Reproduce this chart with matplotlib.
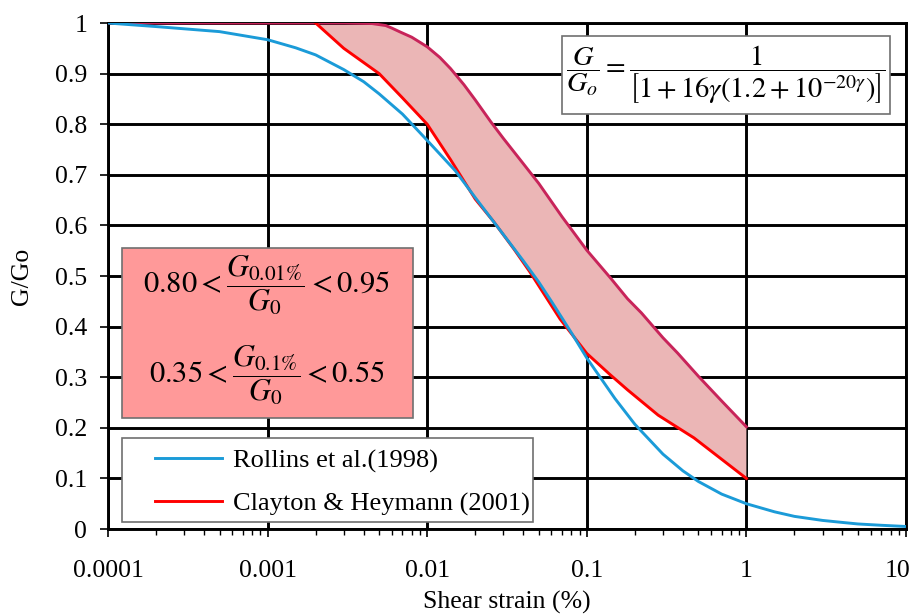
import numpy as np
import matplotlib
matplotlib.use("Agg")
import matplotlib.pyplot as plt
from matplotlib.patches import Rectangle
from matplotlib.ticker import FixedLocator, LogLocator, NullFormatter
from matplotlib.transforms import ScaledTranslation

# ---- data ----
rollins_strain = [1e-4, 2e-4, 5e-4, 1e-3, 1.5e-3, 2e-3, 3e-3, 4e-3, 5e-3, 7e-3, 0.01,
                  0.015, 0.02, 0.03, 0.04, 0.05, 0.06, 0.08, 0.1, 0.15, 0.2, 0.3, 0.4,
                  0.5, 0.7, 1.0, 1.5, 2.0, 3.0, 4.0, 5.0, 7.0, 10.0]
rollins_G = [1.0, 0.993, 0.983, 0.967, 0.951, 0.937, 0.908, 0.884, 0.860, 0.820, 0.768,
             0.708, 0.655, 0.582, 0.530, 0.488, 0.450, 0.388, 0.338, 0.258, 0.207, 0.148,
             0.115, 0.094, 0.069, 0.050, 0.034, 0.025, 0.017, 0.013, 0.010, 0.0074, 0.005]

lower_strain = [0.002, 0.003, 0.005, 0.007, 0.01, 0.014, 0.02, 0.026, 0.035, 0.044,
                0.068, 0.1, 0.14, 0.18, 0.28, 0.47, 1.0]
lower_G = [1.0, 0.95, 0.90, 0.852, 0.80, 0.73, 0.652, 0.608, 0.553, 0.508,
           0.415, 0.347, 0.305, 0.275, 0.225, 0.180, 0.10]

upper_strain = [1e-4, 1e-3, 0.002, 0.003, 0.0045, 0.0055, 0.006, 0.0068, 0.008, 0.01,
                0.012, 0.014, 0.017, 0.02, 0.025, 0.03, 0.04, 0.05, 0.07, 0.1, 0.14,
                0.18, 0.22, 0.3, 0.37, 0.5, 0.7, 1.0]
upper_G = [1.0, 1.0, 1.0, 1.0, 0.999, 0.995, 0.99, 0.982, 0.972, 0.953,
           0.932, 0.91, 0.878, 0.848, 0.805, 0.772, 0.722, 0.683, 0.617, 0.551, 0.497,
           0.455, 0.427, 0.378, 0.348, 0.302, 0.253, 0.202]

x_ticks = [1e-4, 1e-3, 1e-2, 1e-1, 1, 10]
x_ticklabels = ["0.0001", "0.001", "0.01", "0.1", "1", "10"]
y_ticks = [0, 0.1, 0.2, 0.3, 0.4, 0.5, 0.6, 0.7, 0.8, 0.9, 1.0]
y_ticklabels = ["0", "0.1", "0.2", "0.3", "0.4", "0.5", "0.6", "0.7", "0.8", "0.9", "1"]

legend_labels = ["Rollins et al.(1998)", "Clayton & Heymann (2001)"]

# ---- styling ----
plt.rcParams['font.family'] = ['Liberation Serif', 'DejaVu Serif']
plt.rcParams['mathtext.fontset'] = 'stix'

BLUE = '#1B9BD8'
RED = '#FF0000'
CRIMSON = '#C8245A'
FILL = '#EBB6B6'

fig = plt.figure(figsize=(9.17, 6.14), dpi=100)
ax = fig.add_axes([0.1178, 0.1384, 0.988 - 0.1178, 0.9625 - 0.1384])

ax.set_xscale('log')
ax.set_xlim(1e-4, 10)
ax.set_ylim(0, 1)

# band between Clayton & Heymann bounds
us = np.array(upper_strain)
ug = np.array(upper_G)
m = us >= lower_strain[0]
poly_x = np.concatenate([us[m], np.array(lower_strain)[::-1]])
poly_y = np.concatenate([ug[m], np.array(lower_G)[::-1]])
ax.fill(poly_x, poly_y, color=FILL, zorder=2, lw=0)

ax.plot(upper_strain, upper_G, color=CRIMSON, lw=2.1, zorder=3, solid_joinstyle='round')
ax.plot(lower_strain, lower_G, color=RED, lw=2.1, zorder=3, label=legend_labels[1],
        solid_joinstyle='round')
ax.plot(rollins_strain, rollins_G, color=BLUE, lw=2.1, zorder=4, label=legend_labels[0],
        solid_joinstyle='round')

# grid & ticks
ax.xaxis.set_major_locator(FixedLocator(x_ticks))
ax.set_xticklabels(x_ticklabels)
ax.xaxis.set_minor_locator(LogLocator(base=10, subs=np.arange(2, 10)))
ax.xaxis.set_minor_formatter(NullFormatter())
ax.set_yticks(y_ticks)
ax.set_yticklabels(y_ticklabels)
ax.grid(True, which='major', color='black', lw=2.1)
ax.set_axisbelow(True)
for s in ax.spines.values():
    s.set_linewidth(2.1)
    s.set_color('black')
ax.tick_params(axis='both', which='major', labelsize=18.5, length=6, width=1.2,
               direction='out', color='black')
ax.tick_params(axis='x', which='major', pad=16)
ax.tick_params(axis='y', which='major', pad=9)
ax.tick_params(axis='x', which='minor', length=4, width=1.0, direction='out')

# keep the last x tick label inside the canvas
last = ax.get_xticklabels()[-1]
last.set_transform(last.get_transform() + ScaledTranslation(-6 / 72, 0, fig.dpi_scale_trans))

ax.set_xlabel("Shear strain (%)", fontsize=18.5, labelpad=7)
ax.set_ylabel("G/Go", fontsize=18.5, labelpad=16)

# pink info box
ax.add_patch(Rectangle((0.0175, 0.219), 0.365, 0.336, transform=ax.transAxes,
                       facecolor='#FF9999', edgecolor='#707070', lw=1.2, zorder=5))
ax.text(0.199, 0.482, r'$0.80<\dfrac{G_{0.01\%}}{G_0}<0.95$', transform=ax.transAxes,
        ha='center', va='center', fontsize=22, zorder=6)
ax.text(0.199, 0.305, r'$0.35<\dfrac{G_{0.1\%}}{G_0}<0.55$', transform=ax.transAxes,
        ha='center', va='center', fontsize=22, zorder=6)

# formula box
ax.add_patch(Rectangle((0.569, 0.820), 0.411, 0.154, transform=ax.transAxes,
                       facecolor='white', edgecolor='#707070', lw=1.2, zorder=5))
ax.text(0.7745, 0.899,
        r'$\dfrac{G}{G_o}=\dfrac{1}{\left[1+16\gamma\left(1.2+10^{-20\gamma}\right)\right]}$',
        transform=ax.transAxes, ha='center', va='center', fontsize=20.5, zorder=6)

# legend (frame drawn separately)
ax.add_patch(Rectangle((0.0175, 0.014), 0.515, 0.166, transform=ax.transAxes,
                       facecolor='white', edgecolor='#707070', lw=1.2, zorder=5))
h, l = ax.get_legend_handles_labels()
order = [l.index(legend_labels[0]), l.index(legend_labels[1])]
leg = ax.legend([h[i] for i in order], [l[i] for i in order],
                loc='center left', bbox_to_anchor=(0.0589, 0.092),
                borderaxespad=0, borderpad=0, frameon=False,
                fontsize=19, handlelength=2.55, handletextpad=0.4,
                labelspacing=0.72)
leg.set_zorder(6)
for line in leg.get_lines():
    line.set_linewidth(2.1)

fig.savefig("out.png", dpi=100)
